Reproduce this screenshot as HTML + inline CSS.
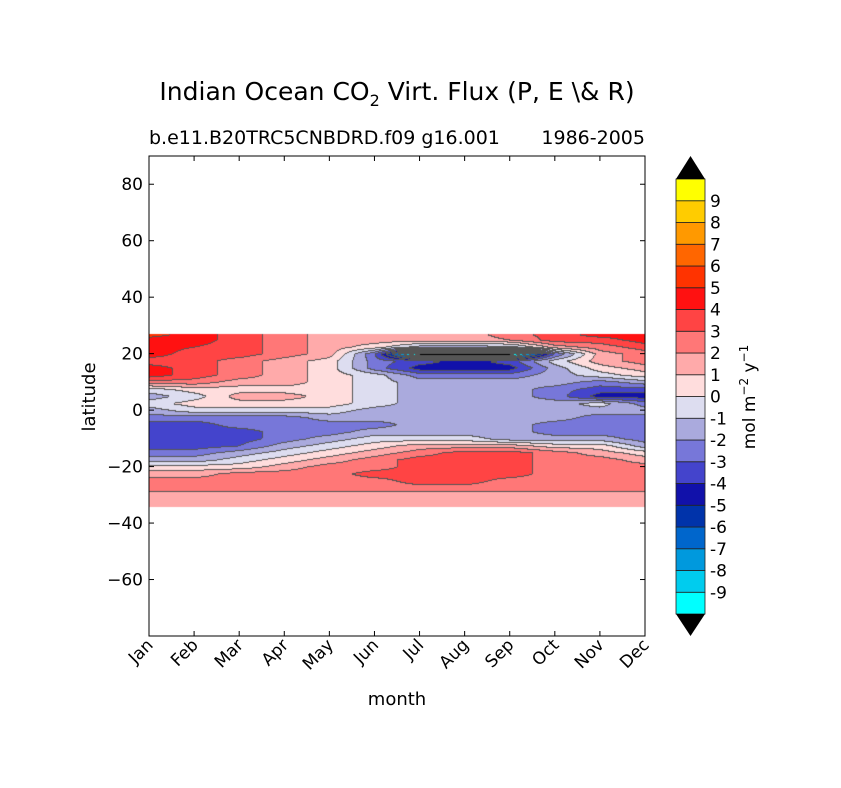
<!DOCTYPE html>
<html><head><meta charset="utf-8">
<style>
body{margin:0;background:#fff;}
#wrap{position:relative;width:841px;height:788px;overflow:hidden;font-family:"DejaVu Sans","Liberation Sans",sans-serif;}
svg{position:absolute;left:0;top:0;}
canvas{position:absolute;left:149px;top:156px;}
</style></head>
<body>
<div id="wrap">
<canvas id="field" width="496" height="480"></canvas>
<svg id="svg" width="841" height="788" xmlns="http://www.w3.org/2000/svg"></svg>
</div>
<script>
const months = ["Jan","Feb","Mar","Apr","May","Jun","Jul","Aug","Sep","Oct","Nov","Dec"];
const lats = [27,25,22.5,20,17.5,15,12.5,10,7.5,5,2.5,0,-2.5,-5,-7.5,-10,-12.5,-15,-17.5,-20,-22.5,-25,-27.5,-30,-34.3];
const values = [
[5.5,4.5,3.5,2.5,1.5,1.5,1.5,1.5,2.5,3.5,4.5,4.5],
[4.5,4.5,3.5,2.5,1.5,1.5,1.5,1.5,2.0,3.5,3.5,4.5],
[4.5,4.0,3.5,2.5,1.5,0.5,-1.5,-1.5,-1.5,1.5,2.5,3.5],
[4.5,3.5,3.5,2.5,1.5,-3,-11,-11,-11,-3,1.5,2.5],
[3.5,3.5,2.5,1.5,0.5,-2.5,-3.5,-4.5,-3.5,-0.5,1.5,2.5],
[4.5,3.5,2.5,1.5,0.5,-2.5,-4.5,-4.8,-4.5,-1.5,0.5,1.5],
[4.5,3.5,2.5,1.5,0.5,-0.5,-2.5,-2.5,-2.5,-1.5,-0.5,0.5],
[2.5,2.5,1.5,1.5,0.5,-0.5,-1.5,-1.5,-1.5,-1.5,-2.5,-1.5],
[-0.5,0.5,0.5,0.5,0.5,-0.5,-1.5,-1.5,-1.5,-2.5,-3.5,-3.5],
[-1.5,-0.5,1.5,1.5,0.5,-0.5,-1.5,-1.5,-1.5,-2.5,-4.5,-4.5],
[-0.5,0.5,0.5,0.5,0.5,-0.5,-1.5,-1.5,-1.5,-1.5,-0.5,-2.5],
[-1.5,-0.5,-0.5,-0.5,-0.5,-1.5,-1.5,-1.5,-1.5,-1.5,-1.5,-1.5],
[-2.5,-2.5,-2.5,-2.5,-1.5,-1.5,-1.5,-1.5,-1.5,-1.5,-2.5,-2.5],
[-3.5,-3.5,-2.5,-2.5,-2.5,-2.5,-1.5,-1.5,-1.5,-2.5,-2.5,-2.5],
[-3.5,-3.5,-3.5,-2.5,-2.5,-1.5,-1.5,-1.5,-1.5,-2.5,-2.5,-2.5],
[-3.5,-3.5,-3.5,-2.5,-1.5,-0.5,-0.5,-0.5,-1.5,-1.5,-1.5,-2.5],
[-3.5,-3.5,-3.0,-1.5,-0.5,0.5,1.5,1.5,1.5,0.5,0.5,-1.5],
[-2.5,-2.5,-1.5,-0.5,0.5,1.5,2.5,3.5,3.5,2.5,1.5,0.5],
[-1.5,-1.5,-0.5,0.5,1.5,2.5,3.5,3.5,3.5,2.5,2.5,1.5],
[0.5,0.5,0.5,1.5,2.5,2.5,3.5,3.5,3.5,2.5,2.5,2.5],
[1.5,1.5,2.5,2.5,2.5,3.5,3.5,3.5,3.5,2.5,2.5,2.5],
[2.5,2.5,2.5,2.5,2.5,2.5,3.5,3.5,2.5,2.5,2.5,2.5],
[2.5,2.5,2.5,2.5,2.5,2.5,2.5,2.5,2.5,2.5,2.5,2.5],
[1.5,1.5,1.5,1.5,1.5,1.5,1.5,1.5,1.5,1.5,1.5,1.5],
[1.5,1.5,1.5,1.5,1.5,1.5,1.5,1.5,1.5,1.5,1.5,1.5]
];
const levelColors = ["#00ffff","#00ccee","#0099dd","#0066cc","#0033aa","#1111aa","#4444cc","#7777d9","#aaaadd","#ddddf0",
 "#ffdddd","#ffaaaa","#ff7777","#ff4444","#ff1111","#ff3300","#ff6600","#ff9900","#ffcc00","#ffff00"];
const cbLabels = ["9","8","7","6","5","4","3","2","1","0","-1","-2","-3","-4","-5","-6","-7","-8","-9"];
const yTicks = [80,60,40,20,0,-20,-40,-60];

const PL=149,PT=156,PW=496,PH=480;
const xScale = i => PL + i*(PW/(months.length-1));
const yScale = lat => PT + (90-lat)*(PH/170);
const NS="http://www.w3.org/2000/svg";
const svg=document.getElementById('svg');
function mk(tag,attrs,parent){const e=document.createElementNS(NS,tag);for(const k in attrs)e.setAttribute(k,attrs[k]);(parent||svg).appendChild(e);return e;}
function levelIndex(v){if(v<-10)return -1;if(v>=10)return 20;return Math.floor(v+10);}
function colorOf(v){const i=levelIndex(v);if(i<0||i>19)return "#000000";return levelColors[i];}

const ctx=document.getElementById('field').getContext('2d');
function sample(px,py){
  const mx=px/(PW/(months.length-1));
  const lat=90-py*(170/PH);
  if(lat>lats[0]||lat<lats[lats.length-1])return null;
  let r=0;while(r<lats.length-2&&lat<lats[r+1])r++;
  const t=(lats[r]-lat)/(lats[r]-lats[r+1]);
  let c=Math.min(Math.floor(mx),months.length-2);const s=mx-c;
  const a=values[r][c]*(1-s)+values[r][c+1]*s;
  const b=values[r+1][c]*(1-s)+values[r+1][c+1]*s;
  return a*(1-t)+b*t;
}
const grid=[];
for(let y=0;y<PH;y++){grid.push([]);for(let x=0;x<PW;x++){grid[y].push(sample(x+0.5,y+0.5));}}
for(let y=0;y<PH;y++)for(let x=0;x<PW;x++){
  const v=grid[y][x];if(v===null)continue;
  let col=colorOf(v);
  const li=levelIndex(v);
  if((x>0&&grid[y][x-1]!==null&&levelIndex(grid[y][x-1])!==li)||(y>0&&grid[y-1][x]!==null&&levelIndex(grid[y-1][x])!==li))col="#555555";
  ctx.fillStyle=col;ctx.fillRect(x,y,1,1);
}

mk('rect',{x:PL,y:PT,width:PW,height:PH,fill:'none',stroke:'#000','stroke-width':1,});
yTicks.forEach(t=>{
  const y=yScale(t);
  const g=mk('g',{});
  
  
  mk('line',{x1:PL,x2:PL+5,y1:y,y2:y,stroke:'#000'},g);
  mk('line',{x1:PL+PW,x2:PL+PW-5,y1:y,y2:y,stroke:'#000'},g);
  const tx=mk('text',{x:PL-6,y:y+6,'text-anchor':'end','font-size':17},g);tx.textContent=t<0?'\u2212'+(-t):t;
});
months.forEach((m,i)=>{
  const x=xScale(i);
  const g=mk('g',{});
  
  
  mk('line',{x1:x,x2:x,y1:PT+PH,y2:PT+PH-5,stroke:'#000'},g);
  mk('line',{x1:x,x2:x,y1:PT,y2:PT+5,stroke:'#000'},g);
  const tx=mk('text',{x:x+5,y:PT+PH+10,'text-anchor':'end','font-size':17,transform:`rotate(-45 ${x+5} ${PT+PH+10})`},g);tx.textContent=m;
});
let t;
t=mk('text',{x:397,y:705,'text-anchor':'middle','font-size':18,});t.textContent='month';
t=mk('text',{x:95,y:397,'text-anchor':'middle','font-size':18,transform:'rotate(-90 95 397)',});t.textContent='latitude';
t=mk('text',{x:397,y:100,'text-anchor':'middle','font-size':25,});
t.innerHTML='Indian Ocean CO<tspan font-size="16" dy="6">2</tspan><tspan dy="-6"> Virt. Flux (P, E \\&amp; R)</tspan>';
t=mk('text',{x:149,y:144,'font-size':19,});t.textContent='b.e11.B20TRC5CNBDRD.f09 g16.001';
t=mk('text',{x:645,y:144,'text-anchor':'end','font-size':19,});t.textContent='1986-2005';

const CX=676,CW=29,CT=179,CB=614;const bh=(CB-CT)/levelColors.length;
levelColors.forEach((c,i)=>{
  const r=mk('rect',{x:CX,y:CB-(i+1)*bh,width:CW,height:bh,fill:c,stroke:'#222','stroke-width':0.8});
  
  
});
mk('polygon',{points:`${CX},${CT} ${CX+CW},${CT} ${CX+CW/2},${156}`,fill:'#000',});
mk('polygon',{points:`${CX},${CB} ${CX+CW},${CB} ${CX+CW/2},${636}`,fill:'#000',});
cbLabels.forEach((l,i)=>{
  const y=CT+(i+1)*bh;
  const tx=mk('text',{x:710,y:y+6,'font-size':17});
  
  
  tx.textContent=l;
});
t=mk('text',{x:755,y:397,'text-anchor':'middle','font-size':17,transform:'rotate(-90 755 397)',});
t.innerHTML='mol m<tspan font-size="12" dy="-7">−2</tspan><tspan dy="7">  y</tspan><tspan font-size="12" dy="-7">−1</tspan>';
</script>
</body></html>
